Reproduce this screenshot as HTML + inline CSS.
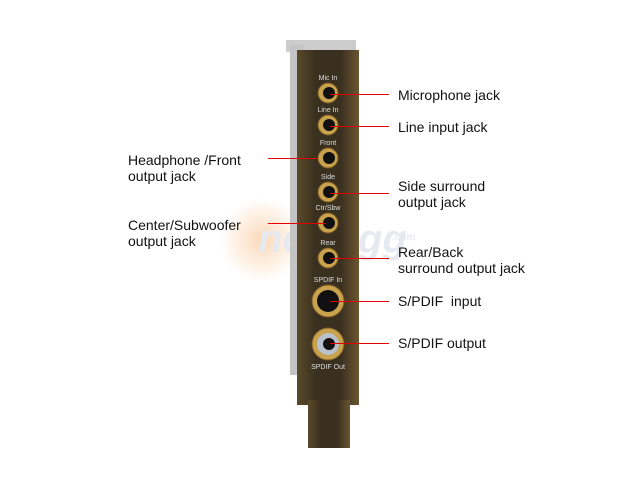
<!DOCTYPE html><html><head><style>
body{margin:0;width:640px;height:480px;background:#fff;position:relative;overflow:hidden;font-family:"Liberation Sans",sans-serif;}
.t{position:absolute;font-size:14px;line-height:16px;color:#111;}
</style></head><body>
<svg width="640" height="480" style="position:absolute;left:0;top:0">
<defs><radialGradient id="g" cx="50%" cy="50%" r="50%"><stop offset="0" stop-color="#fbd9b8"/><stop offset="1" stop-color="#fff"/></radialGradient>
<linearGradient id="p" x1="0" x2="1"><stop offset="0" stop-color="#5a4a2a"/><stop offset="0.3" stop-color="#3a3020"/><stop offset="0.7" stop-color="#3a3020"/><stop offset="1" stop-color="#6a5630"/></linearGradient></defs>
<circle cx="262" cy="240" r="42" fill="url(#g)"/>
<text x="258" y="252" font-family="Liberation Sans" font-style="italic" font-weight="bold" font-size="40" fill="#e6eaf0">newegg</text>
<text x="392" y="240" font-family="Liberation Sans" font-weight="bold" font-size="10" fill="#e6eaf0">.com</text>
<rect x="286" y="40" width="70" height="12" fill="#ccc"/>
<rect x="290" y="45" width="14" height="330" fill="#c4c4c4"/>
<rect x="297" y="50" width="62" height="355" fill="url(#p)"/>
<rect x="308" y="400" width="42" height="48" fill="url(#p)"/>
<g fill="#c9a24e" stroke="#7a5a20" stroke-width="1">
<circle cx="328" cy="93" r="10"/><circle cx="328" cy="125" r="10"/><circle cx="328" cy="158" r="10"/><circle cx="328" cy="192" r="10"/><circle cx="328" cy="223" r="10"/><circle cx="328" cy="258" r="10"/>
<circle cx="328" cy="301" r="16"/><circle cx="328" cy="344" r="16"/></g>
<g fill="#111"><circle cx="329" cy="93" r="6"/><circle cx="329" cy="125" r="6"/><circle cx="329" cy="158" r="6"/><circle cx="329" cy="192" r="6"/><circle cx="329" cy="223" r="6"/><circle cx="329" cy="258" r="6"/>
<circle cx="328" cy="301" r="11"/></g>
<circle cx="328" cy="344" r="11" fill="#b8c0cc"/><circle cx="329" cy="344" r="6" fill="#111"/>
<g font-family="Liberation Sans" font-size="7" fill="#ddd" text-anchor="middle">
<text x="328" y="80">Mic In</text><text x="328" y="112">Line In</text><text x="328" y="145">Front</text><text x="328" y="179">Side</text><text x="328" y="210">Ctr/Sbw</text><text x="328" y="245">Rear</text><text x="328" y="282">SPDIF In</text><text x="328" y="369">SPDIF Out</text></g>
<g stroke="#e00000" stroke-width="1.2" shape-rendering="crispEdges">
<line x1="330" y1="94.5" x2="389" y2="94.5"/>
<line x1="330" y1="126.5" x2="389" y2="126.5"/>
<line x1="330" y1="193.5" x2="389" y2="193.5"/>
<line x1="330" y1="258.5" x2="389" y2="258.5"/>
<line x1="330" y1="301.5" x2="389" y2="301.5"/>
<line x1="330" y1="343.5" x2="389" y2="343.5"/>
<line x1="268" y1="158.5" x2="318" y2="158.5"/>
<line x1="268" y1="223.5" x2="326" y2="223.5"/>
</g>
</svg>
<div class="t" style="left:398px;top:87px">Microphone jack</div>
<div class="t" style="left:398px;top:119px">Line input jack</div>
<div class="t" style="left:398px;top:178px">Side surround<br>output jack</div>
<div class="t" style="left:398px;top:244px">Rear/Back<br>surround output jack</div>
<div class="t" style="left:398px;top:293px">S/PDIF&nbsp; input</div>
<div class="t" style="left:398px;top:335px">S/PDIF output</div>
<div class="t" style="left:128px;top:152px">Headphone /Front<br>output jack</div>
<div class="t" style="left:128px;top:217px">Center/Subwoofer<br>output jack</div>
</body></html>
